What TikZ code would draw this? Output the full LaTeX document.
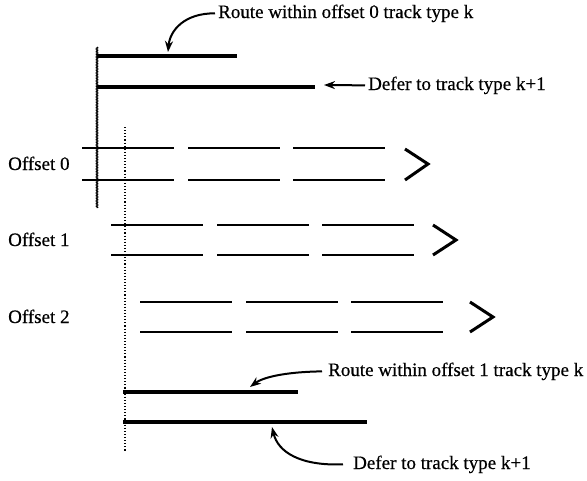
\documentclass[tikz,border=0pt]{standalone}
\usepackage{fontspec}
\setmainfont{Liberation Serif}[UprightFeatures={FakeBold=0.5}]
\usetikzlibrary{arrows.meta,decorations.pathmorphing}
\begin{document}
\begin{tikzpicture}[x=1pt,y=-1pt,
  every node/.style={inner sep=0pt, font=\fontsize{19}{22}\selectfont},
  lbl/.style={anchor=base west},
  wire/.style={line width=4pt},
  track/.style={line width=1.6pt},
  chevron/.style={line width=3pt, line join=miter},
  callout/.style={line width=2pt, -{Stealth[length=11pt,width=8pt]}},
  rough/.style={line width=0.9pt, decorate,
    decoration={zigzag, segment length=1.6pt, amplitude=0.7pt}},
  guide/.style={line width=1.1pt, dotted}]
\useasboundingbox (0,0) rectangle (587,480);

% boundary markers
\draw[rough] (97,47) -- (97,208);
\draw[guide] (125,127) -- (125,452);

% wires on track type k (offset 0)
\draw[wire] (97,56) -- (237,56);
\draw[wire] (97,87) -- (315,87);

% wires on track type k (offset 1)
\draw[wire] (123,392) -- (298,392);
\draw[wire] (123,422) -- (367,422);

% tracks of the three offsets
\foreach \dx/\ya/\yb/\n in {0/148/180/0, 29/225/255/1, 58/302/332/2}{
  \foreach \s in {0,106,211}{
    \draw[track] (82+\dx+\s,\ya) -- ++(92,0);
    \draw[track] (82+\dx+\s,\yb) -- ++(92,0);
  }
  \node[lbl] (off\n) at (8,{(\ya+\yb)/2+6}) {Offset \n};
}

% chevrons: the pattern continues to the right
\draw[chevron] (405,149) -- (428,164) -- (405,180);
\draw[chevron] (433,225) -- (456,240) -- (433,255);
\draw[chevron] (470,302) -- (493,317) -- (470,332);

% annotations
\node[lbl] (rA) at (218,18) {Route within offset 0 track type k};
\node[lbl] (dA) at (368,90) {Defer to track type k+1};
\node[lbl] (rB) at (328,376) {Route within offset 1 track type k};
\node[lbl] (dB) at (353,469) {Defer to track type k+1};

\coordinate (tA) at (168,52);
\coordinate (tB) at (324,85);
\coordinate (tC) at (250,387);
\coordinate (tD) at (272,427);

\draw[callout] ([xshift=-3pt]rA.west) .. controls (185,13) and (170,30) .. (tA);
\draw[callout] ([xshift=-3pt]dA.west) -- (tB);
\draw[callout] ([xshift=-6pt]rB.west) .. controls (282,372) and (262,378) .. (tC);
\draw[callout] ([xshift=-10pt]dB.west) .. controls (300,466) and (278,452) .. (tD);
\end{tikzpicture}
\end{document}
